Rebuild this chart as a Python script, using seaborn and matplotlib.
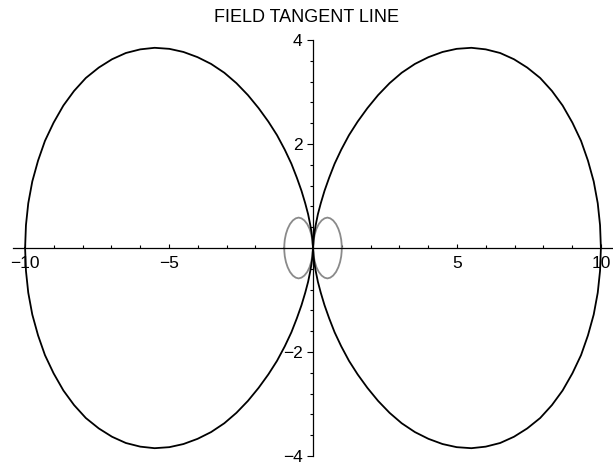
import numpy as np
import pandas as pd
import matplotlib
matplotlib.use("Agg")
import matplotlib.pyplot as plt
import seaborn as sns
from matplotlib.ticker import MultipleLocator, FixedLocator

# ---------------------------------------------------------
# Data (upper half of the right-hand loops)
# ---------------------------------------------------------
# big black loop: from the tip at (10, 0) back to the origin
big_x = [10.0, 9.97, 9.89, 9.75, 9.55, 9.31, 9.01, 8.67, 8.30, 7.89, 7.44,
         6.98, 6.50, 6.00, 5.50, 4.99, 4.50, 4.01, 3.54, 3.08, 2.66, 2.26,
         1.89, 1.55, 1.25, 0.98, 0.75, 0.56, 0.40, 0.27, 0.17, 0.10, 0.05,
         0.02, 0.01, 0.0, 0.0]
big_y = [0.0, 0.44, 0.86, 1.28, 1.68, 2.06, 2.41, 2.74, 3.02, 3.27, 3.47,
         3.63, 3.75, 3.82, 3.85, 3.83, 3.77, 3.67, 3.54, 3.37, 3.17, 2.94,
         2.69, 2.43, 2.17, 1.89, 1.62, 1.35, 1.10, 0.86, 0.65, 0.46, 0.30,
         0.17, 0.08, 0.02, 0.0]

# small grey loop near the origin
small_x = [1.0, 0.995, 0.98, 0.94, 0.88, 0.80, 0.70, 0.60, 0.50, 0.40,
           0.30, 0.20, 0.12, 0.06, 0.02, 0.0]
small_y = [0.0, 0.07, 0.16, 0.27, 0.37, 0.46, 0.53, 0.57, 0.585, 0.57,
           0.53, 0.46, 0.37, 0.26, 0.14, 0.0]

x_ticks = [-10, -5, 5, 10]
y_ticks = [-4, -2, 2, 4]
title = "FIELD TANGENT LINE"


def full_loop(xs, ys, side):
    # upper half, then the mirrored lower half, on the given side
    xs = np.array(xs) * side
    ys = np.array(ys)
    return (np.concatenate([xs, xs[::-1]]),
            np.concatenate([ys, -ys[::-1]]))


sns.set_theme(style="white")
plt.rcParams['font.family'] = ['Liberation Sans', 'DejaVu Sans']
plt.rcParams['text.color'] = 'black'
plt.rcParams['xtick.labelcolor'] = 'black'
plt.rcParams['ytick.labelcolor'] = 'black'

fig = plt.figure(figsize=(6.13, 4.67), dpi=100)
ax = fig.add_axes([13 / 613, 11 / 467, 600 / 613, 416 / 467])

for side in (1, -1):
    lx, ly = full_loop(small_x, small_y, side)
    sns.lineplot(x=lx, y=ly, sort=False, estimator=None, color="#8a8a8a",
                 linewidth=1.3, ax=ax)
for side in (1, -1):
    lx, ly = full_loop(big_x, big_y, side)
    sns.lineplot(x=lx, y=ly, sort=False, estimator=None, color="black",
                 linewidth=1.3, ax=ax)

ax.set_xlim(-10.42, 10.42)
ax.set_ylim(-4, 4)

# axes through the origin, Maple style
for s in ("top", "right"):
    ax.spines[s].set_visible(False)
ax.spines["left"].set_position(("data", 0))
ax.spines["bottom"].set_position(("data", 0))
for s in ("left", "bottom"):
    ax.spines[s].set_color("black")
    ax.spines[s].set_linewidth(0.9)
ax.patch.set_visible(False)

ax.xaxis.set_major_locator(FixedLocator(x_ticks))
ax.xaxis.set_minor_locator(FixedLocator([v for v in range(-10, 11) if v not in x_ticks and v != 0]))
ax.yaxis.set_major_locator(FixedLocator(y_ticks))
ax.yaxis.set_minor_locator(MultipleLocator(0.4))
ax.set_xticklabels([str(v).replace("-", "\u2212") for v in x_ticks])
ax.set_yticklabels([str(v).replace("-", "\u2212") for v in y_ticks])

ax.tick_params(axis="x", which="both", direction="in", color="black",
               width=0.8, labelsize=12.5, pad=6, bottom=True)
ax.tick_params(axis="x", which="major", length=3)
ax.tick_params(axis="x", which="minor", length=2)
ax.tick_params(axis="y", which="both", direction="out", color="black",
               width=0.8, labelsize=12.5, pad=3.5, left=True)
ax.tick_params(axis="y", which="major", length=4)
ax.tick_params(axis="y", which="minor", length=2.5)
ax.set_xlabel("")
ax.set_ylabel("")
ax.grid(False)

fig.text(0.5, 1 - 21.7 / 467, title, ha="center", va="baseline",
         fontsize=13, color="black")

fig.savefig("out.png", dpi=100, facecolor="white")
